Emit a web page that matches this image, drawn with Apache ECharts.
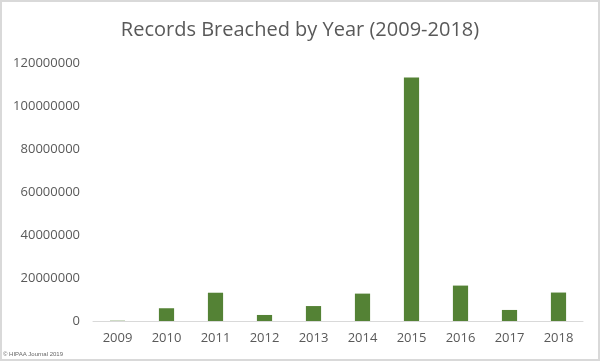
<style>body { margin: 0; }</style>
<div id="chart" style="width: 600px; height: 361px;"></div>
<script src="https://cdn.jsdelivr.net/npm/echarts@6/dist/echarts.min.js"></script>
<script>
const years = ['2009', '2010', '2011', '2012', '2013', '2014', '2015', '2016', '2017', '2018'];
const recordsBreached = [134773, 5932276, 13150298, 2808042, 6950118, 12737973, 113267174, 16471765, 5138179, 13236569];
const yTicks = { min: 0, max: 120000000, step: 20000000 };

const chart = echarts.init(document.getElementById('chart'));

const option = {
  backgroundColor: '#fff',
  textStyle: { fontFamily: 'Open Sans' },
  title: {
    text: 'Records Breached by Year (2009-2018)',
    left: 'center',
    top: 15,
    textStyle: { fontSize: 20, fontWeight: 'normal', color: '#595959', fontFamily: 'Open Sans' }
  },
  // 图片外框 + 版权
  graphic: [
    {
      type: 'rect',
      shape: { x: 1, y: 1, width: 598, height: 359 },
      style: { fill: 'none', stroke: '#d9d9d9', lineWidth: 2 },
      silent: true
    },
    {
      type: 'text',
      left: 3,
      top: 351,
      style: { text: '© HIPAA Journal 2019', fontSize: 6, fill: '#666', fontFamily: 'Liberation Sans' }
    }
  ],
  grid: { left: 93, right: 17, top: 63, bottom: 40 },
  xAxis: {
    type: 'category',
    data: years,
    axisLine: { lineStyle: { color: '#d9d9d9' } },
    axisTick: { show: false },
    axisLabel: { color: '#595959', fontSize: 13, margin: 11 }
  },
  yAxis: {
    type: 'value',
    min: yTicks.min,
    max: yTicks.max,
    interval: yTicks.step,
    splitLine: { show: false },
    axisLine: { show: false },
    axisTick: { show: false },
    axisLabel: {
      color: '#595959',
      fontSize: 13,
      margin: 13,
      formatter: function (v) { return String(v); }
    }
  },
  series: [
    {
      name: 'Records Breached',
      type: 'bar',
      data: recordsBreached,
      barWidth: '31%',
      itemStyle: { color: '#548235' }
    }
  ]
};

chart.setOption(option);
</script>
